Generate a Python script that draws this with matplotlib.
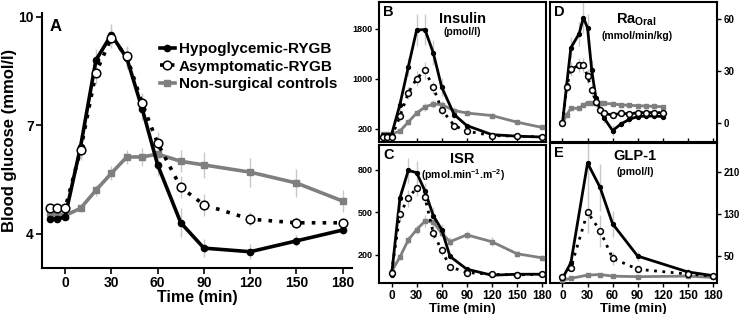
import matplotlib
matplotlib.use("Agg")
import matplotlib.pyplot as plt

plt.rcParams['font.family'] = ['Liberation Sans', 'DejaVu Sans']
plt.rcParams['font.weight'] = 'bold'
plt.rcParams['axes.labelweight'] = 'bold'
plt.rcParams['mathtext.fontset'] = 'custom'
plt.rcParams['mathtext.rm'] = 'Liberation Sans:bold'
plt.rcParams['mathtext.bf'] = 'Liberation Sans:bold'
plt.rcParams['mathtext.it'] = 'Liberation Sans:bold'
plt.rcParams['mathtext.default'] = 'bf'

labels = ["Hypoglycemic-RYGB", "Asymptomatic-RYGB", "Non-surgical controls"]

# A: blood glucose
t_a = [-10, -5, 0, 10, 20, 30, 40, 50, 60, 75, 90, 120, 150, 180]
hypo_a = [4.4, 4.4, 4.47, 6.4, 8.8, 9.5, 8.85, 7.45, 5.9, 4.3, 3.6, 3.5, 3.8, 4.1]
asym_a = [4.72, 4.72, 4.7, 6.3, 8.45, 9.42, 8.9, 7.6, 6.5, 5.28, 4.8, 4.4, 4.3, 4.3]
ctrl_a = [4.58, 4.55, 4.5, 4.7, 5.2, 5.67, 6.12, 6.12, 6.2, 6.0, 5.9, 5.7, 5.4, 4.9]
hypo_a_err = [0.05, 0.05, 0.05, 0.3, 0.3, 0.3, 0.3, 0.3, 0.3, 0.4, 0.25, 0.2, 0.15, 0.1]
asym_a_err = [0.05, 0.05, 0.05, 0.25, 0.3, 0.3, 0.3, 0.3, 0.3, 0.3, 0.3, 0.2, 0.15, 0.1]
ctrl_a_err = [0.05, 0.05, 0.05, 0.1, 0.15, 0.2, 0.2, 0.25, 0.3, 0.3, 0.35, 0.4, 0.4, 0.3]

# B: insulin
t_b = [-10, -5, 0, 10, 20, 30, 40, 50, 60, 75, 90, 120, 150, 180]
hypo_b = [110, 110, 110, 590, 1190, 1780, 1790, 1415, 870, 430, 255, 110, 85, 72]
asym_b = [70, 70, 70, 400, 775, 1005, 1135, 865, 510, 255, 165, 95, 85, 72]
ctrl_b = [120, 120, 120, 165, 310, 455, 550, 600, 590, 495, 455, 415, 310, 225]
hypo_b_err = [20, 20, 20, 100, 150, 250, 250, 200, 150, 60, 40, 20, 15, 10]
asym_b_err = [10, 10, 10, 80, 100, 120, 130, 100, 80, 40, 20, 15, 10, 10]
ctrl_b_err = [10, 10, 10, 20, 40, 50, 60, 60, 60, 50, 50, 40, 30, 30]

# C: insulin secretion rate
t_c = [0, 10, 20, 30, 40, 50, 60, 70, 90, 120, 150, 180]
hypo_c = [55, 600, 795, 780, 650, 475, 378, 188, 98, 55, 62, 62]
asym_c = [74, 486, 600, 672, 606, 352, 231, 115, 74, 62, 57, 62]
ctrl_c = [81, 183, 304, 377, 437, 430, 352, 292, 340, 292, 207, 178]
hypo_c_err = [10, 60, 90, 80, 60, 60, 40, 20, 10, 8, 8, 8]
asym_c_err = [10, 50, 60, 60, 50, 40, 30, 15, 10, 8, 8, 8]
ctrl_c_err = [10, 20, 30, 30, 40, 40, 30, 30, 30, 30, 20, 20]

# D: oral glucose appearance
t_d = [0, 5, 10, 20, 25, 30, 35, 40, 45, 50, 60, 70, 80, 90, 100, 110, 120]
hypo_d = [0, 22, 43.5, 51.7, 61, 55, 30.6, 14.2, 7.5, 2.7, -4.4, -0.6, 2.1, 3.7, 4, 4, 3.7]
asym_d = [0, 20.6, 31, 33.5, 33.5, 27, 19, 12.3, 7.5, 5.5, 4.6, 5.6, 5.2, 6, 6, 6, 6]
ctrl_d = [0, 4.6, 8.5, 8.5, 10.4, 11.7, 11.7, 11.7, 11.5, 11.3, 11, 10.5, 10.2, 10, 9.8, 9.6, 9.4]
hypo_d_err = [0.5, 3, 6, 7, 9, 8, 6, 4, 3, 3, 3, 2, 2, 1.5, 1.5, 1.5, 1.5]
asym_d_err = [0.5, 3, 4, 4, 4, 4, 3, 3, 2, 2, 1.5, 1.5, 1.5, 1.5, 1.5, 1.5, 1.5]
ctrl_d_err = [0.5, 1, 1, 1, 1, 1, 1, 1, 1, 1, 1, 1, 1, 1, 1, 1, 1]

# E: GLP-1
t_e = [0, 10, 30, 45, 60, 90, 150, 180]
hypo_e = [8, 37, 226, 180, 111, 50, 20, 13]
asym_e = [11, 28, 133, 98, 46, 25, 16, 12]
ctrl_e = [4.5, 7.7, 14, 15, 12, 11, 12, 9.5]
hypo_e_err = [3, 8, 70, 45, 25, 10, 5, 3]
asym_e_err = [3, 6, 40, 30, 12, 6, 4, 3]
ctrl_e_err = [1, 1, 2, 2, 2, 2, 2, 2]

GREY = '#7f7f7f'
ERR = '#c8c8c8'


def draw_series(ax, t, ys, errs, big):
    lw = 2.6 if big else 2.0
    ms = 4.5 if big else 2.8
    ms_open = 6.2 if big else 4.2
    for y, e in zip(ys, errs):
        ax.errorbar(t, y, yerr=e, fmt='none', ecolor=ERR, elinewidth=1.0, capsize=0, zorder=1)
    h1, = ax.plot(t, ys[0], color='black', lw=lw, marker='o', ms=ms, zorder=4,
                  label=labels[0])
    h2, = ax.plot(t, ys[1], color='black', lw=lw, ls=(0, (1, 2)), marker='o', ms=ms_open,
                  mfc='white', mec='black', mew=1.1, zorder=5, label=labels[1])
    h3, = ax.plot(t, ys[2], color=GREY, lw=lw, marker='s', ms=ms, zorder=3, label=labels[2])
    return [h1, h2, h3]


def small_panel(ax, letter, title, unit, ylim, yticks, right, xlabels, tx=0.5, ty=0.93, uy=0.785):
    ax.set_xlim(-15, 185)
    ax.set_ylim(*ylim)
    ax.set_yticks(yticks)
    ax.set_xticks([0, 30, 60, 90, 120, 150, 180])
    for s in ax.spines.values():
        s.set_linewidth(1.5)
    ax.tick_params(axis='y', labelsize=7 if right else 6.5, length=3, width=1, pad=1.5)
    ax.tick_params(axis='x', length=3, width=1)
    if right:
        ax.yaxis.tick_right()
    if xlabels:
        ax.tick_params(axis='x', labelsize=8.5, pad=2)
        ax.set_xlabel("Time (min)", fontsize=9.5, labelpad=0.5)
    else:
        ax.tick_params(axis='x', labelbottom=False, direction='in')
    ax.text(0.025, 0.975, letter, transform=ax.transAxes, fontsize=10.5, va='top', ha='left')
    ax.text(tx, ty, title, transform=ax.transAxes, fontsize=10.5, va='top', ha='center')
    ax.text(tx, uy, unit, transform=ax.transAxes, fontsize=7.5, va='center', ha='center')


fig = plt.figure(figsize=(7.39, 3.14), dpi=100)

ax_a = fig.add_axes([0.0568, 0.1465, 0.4195, 0.812])
handles = draw_series(ax_a, t_a, [hypo_a, asym_a, ctrl_a], [hypo_a_err, asym_a_err, ctrl_a_err], True)
ax_a.set_xlim(-15, 186)
ax_a.set_ylim(3.05, 10.1)
ax_a.set_yticks([4, 7, 10])
ax_a.set_xticks([0, 30, 60, 90, 120, 150, 180])
ax_a.spines['top'].set_visible(False)
ax_a.spines['right'].set_visible(False)
ax_a.spines['left'].set_linewidth(1.5)
ax_a.spines['bottom'].set_linewidth(1.5)
ax_a.tick_params(axis='both', labelsize=10, length=4, width=1.2, pad=2)
ax_a.set_xlabel("Time (min)", fontsize=11.5, labelpad=0)
ax_a.set_ylabel("Blood glucose (mmol/l)", fontsize=12, labelpad=1)
ax_a.text(0.026, 0.975, "A", transform=ax_a.transAxes, fontsize=12, va='top', ha='left')
ax_a.legend(handles=handles, loc='upper left', bbox_to_anchor=(0.38, 0.885), frameon=False,
            fontsize=11, handlelength=1.0, handletextpad=0.25, labelspacing=0.22,
            borderaxespad=0, borderpad=0)

ax_b = fig.add_axes([0.5129, 0.5478, 0.226, 0.4459])
draw_series(ax_b, t_b, [hypo_b, asym_b, ctrl_b], [hypo_b_err, asym_b_err, ctrl_b_err], False)
small_panel(ax_b, "B", "Insulin", "(pmol/l)", (-8, 2230), [200, 1000, 1800], False, False)

ax_c = fig.add_axes([0.5129, 0.0987, 0.226, 0.4395])
draw_series(ax_c, t_c, [hypo_c, asym_c, ctrl_c], [hypo_c_err, asym_c_err, ctrl_c_err], False)
small_panel(ax_c, "C", "ISR", r"(pmol.min$^{-1}$.m$^{-2}$)", (0, 975), [200, 500, 800], False, True,
            ty=0.95, uy=0.78)

ax_d = fig.add_axes([0.7442, 0.5478, 0.226, 0.4459])
draw_series(ax_d, t_d, [hypo_d, asym_d, ctrl_d], [hypo_d_err, asym_d_err, ctrl_d_err], False)
small_panel(ax_d, "D", r"Ra$_{Oral}$", "(mmol/min/kg)", (-11, 70), [0, 30, 60], True, False,
            tx=0.52, ty=0.93, uy=0.755)

ax_e = fig.add_axes([0.7442, 0.0987, 0.226, 0.4459])
draw_series(ax_e, t_e, [hypo_e, asym_e, ctrl_e], [hypo_e_err, asym_e_err, ctrl_e_err], False)
small_panel(ax_e, "E", "GLP-1", "(pmol/l)", (-1, 264), [50, 130, 210], True, True,
            tx=0.51, ty=0.96, uy=0.79)

fig.savefig("out.png", dpi=100)
